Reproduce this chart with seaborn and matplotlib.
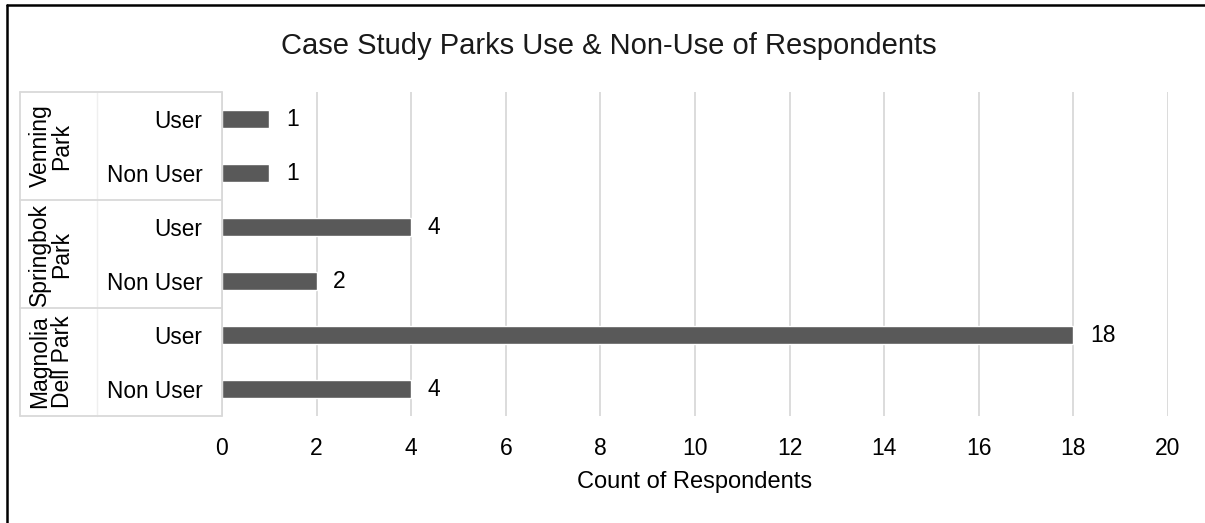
import matplotlib
matplotlib.use("Agg")
import matplotlib.pyplot as plt
import seaborn as sns
import pandas as pd
from matplotlib.lines import Line2D

# Data
parks = ["Venning\nPark", "Springbok\nPark", "Magnolia\nDell Park"]
park_of_row = ["Venning\nPark", "Venning\nPark", "Springbok\nPark", "Springbok\nPark",
               "Magnolia\nDell Park", "Magnolia\nDell Park"]
type_of_row = ["User", "Non User", "User", "Non User", "User", "Non User"]
counts = [1, 1, 4, 2, 18, 4]
x_ticks = [0, 2, 4, 6, 8, 10, 12, 14, 16, 18, 20]

rows = [f"{p}|{t}" for p, t in zip(park_of_row, type_of_row)]
df = pd.DataFrame({"row": rows, "count": counts})

sns.set_theme(style="white")
plt.rcParams["font.family"] = ["Liberation Sans", "DejaVu Sans"]

FS = 16.3
fig = plt.figure(figsize=(12.05, 5.23), dpi=100)
ax = fig.add_axes([222 / 1205, 1 - 416 / 523, (1168 - 222) / 1205, (416 - 92) / 523])

sns.barplot(data=df, y="row", x="count", order=rows, orient="h",
            color="#595959", saturation=1, width=0.32, ax=ax)

ax.set_xlim(0, 20)
ax.set_xticks(x_ticks)
ax.set_xticklabels([str(v) for v in x_ticks], fontsize=16.5, color="#000000")
ax.tick_params(axis="x", length=0, pad=15)
ax.xaxis.grid(True, color="#d9d9d9", linewidth=1.3)
ax.set_axisbelow(True)
for s in ax.spines.values():
    s.set_visible(False)

ax.set_yticks(range(len(rows)))
ax.set_yticklabels(type_of_row, fontsize=FS, color="#000000")
ax.tick_params(axis="y", length=0, pad=14)
ax.set_ylabel("")
ax.set_xlabel("Count of Respondents", fontsize=17, color="#000000", labelpad=8)

# value labels
for i, v in enumerate(counts):
    ax.annotate(str(v), (v, i), xytext=(12, 0), textcoords="offset points",
                va="center", ha="left", fontsize=16.5, color="#000000")

# grouped category axis: boxes and rotated park names
trans = ax.get_yaxis_transform()
line_kw = dict(color="#d9d9d9", linewidth=1.3, clip_on=False, transform=trans)
x_left = (20 - 222) / (1168 - 222)
x_mid = (97 - 222) / (1168 - 222)
ax.add_line(Line2D([0, 0], [-0.5, 5.5], **line_kw))
ax.add_line(Line2D([x_left, x_left], [-0.5, 5.5], **line_kw))
ax.add_line(Line2D([x_mid, x_mid], [-0.5, 5.5], color="#efefef", linewidth=1.0,
                   clip_on=False, transform=trans))
for y in [-0.5, 1.5, 3.5, 5.5]:
    ax.add_line(Line2D([x_left, 0], [y, y], **line_kw))
x_group = (51 - 222) / (1168 - 222)
for k, p in enumerate(parks):
    ax.text(x_group, 2 * k + 0.5, p, rotation=90, ha="center", va="center",
            fontsize=16.5, color="#000000", transform=trans, linespacing=0.95)

fig.text(609 / 1205, 1 - 46 / 523, "Case Study Parks Use & Non-Use of Respondents",
         ha="center", va="center", fontsize=21, color="#1a1a1a")

# outer frame (top and left edges)
fig.add_artist(Line2D([7 / 1205, 7 / 1205], [0, 1 - 5 / 523], color="#000000",
                      linewidth=1.8, transform=fig.transFigure))
fig.add_artist(Line2D([7 / 1205, 1], [1 - 5 / 523, 1 - 5 / 523], color="#000000",
                      linewidth=1.8, transform=fig.transFigure))

fig.savefig("out.png", dpi=100)
